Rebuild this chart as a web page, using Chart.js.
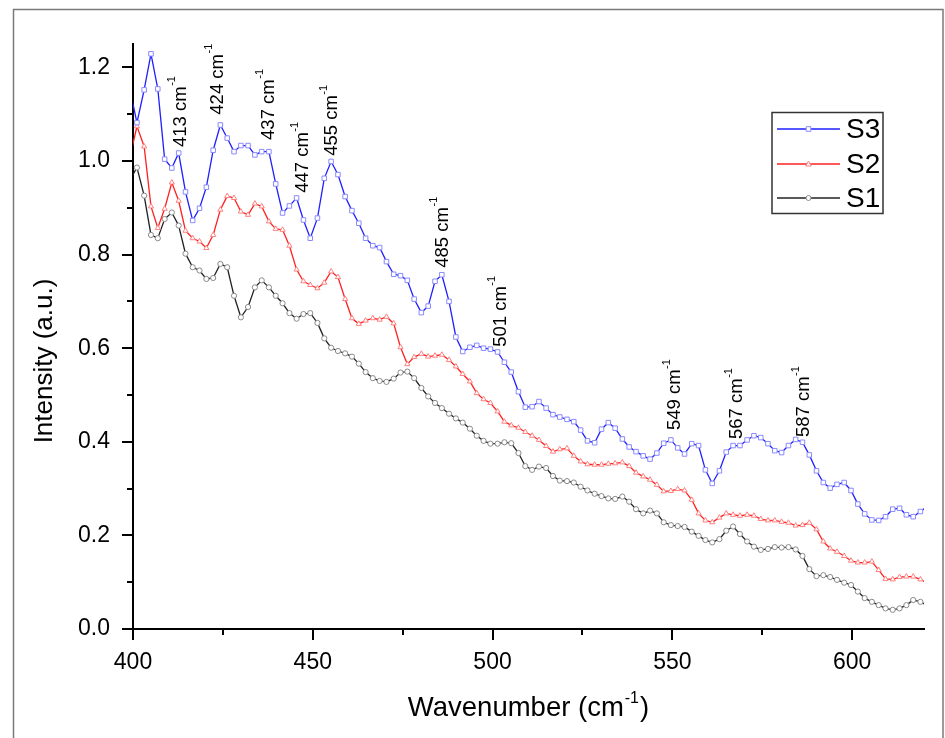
<!DOCTYPE html>
<html>
<head>
<meta charset="utf-8">
<script src="https://cdn.jsdelivr.net/npm/chart.js@4.4.0/dist/chart.umd.min.js"></script>
<style>
  html, body { margin: 0; padding: 0; background: #fff; }
  #wrap { width: 945px; height: 738px; position: relative; }
</style>
</head>
<body>
<div id="wrap"><canvas id="ramanChart"></canvas></div>
<script>
// Raman spectra data
const wavenumbers = [
  399.2, 401.1, 403.1, 405.0, 406.9, 408.8, 410.8, 412.7, 414.6, 416.6,
  418.5, 420.4, 422.3, 424.3, 426.2, 428.1, 430.0, 432.0, 433.9, 435.8,
  437.8, 439.7, 441.6, 443.5, 445.5, 447.4, 449.3, 451.3, 453.2, 455.1,
  457.0, 459.0, 460.9, 462.8, 464.7, 466.7, 468.6, 470.5, 472.5, 474.4,
  476.3, 478.2, 480.2, 482.1, 484.0, 485.9, 487.9, 489.8, 491.7, 493.7,
  495.6, 497.5, 499.4, 501.4, 503.3, 505.2, 507.2, 509.1, 511.0, 512.9,
  514.9, 516.8, 518.7, 520.7, 522.6, 524.5, 526.4, 528.4, 530.3, 532.2,
  534.1, 536.1, 538.0, 539.9, 541.9, 543.8, 545.7, 547.6, 549.6, 551.5,
  553.4, 555.4, 557.3, 559.2, 561.1, 563.1, 565.0, 566.9, 568.8, 570.8,
  572.7, 574.6, 576.6, 578.5, 580.4, 582.3, 584.3, 586.2, 588.1, 590.1,
  592.0, 593.9, 595.8, 597.8, 599.7, 601.6, 603.5, 605.5, 607.4, 609.3,
  611.3, 613.2, 615.1, 617.0, 619.0, 620.9
];

const s3Values = [
  1.150, 1.082, 1.152, 1.229, 1.154, 1.004, 0.985, 1.017, 0.934, 0.873,
  0.899, 0.944, 1.023, 1.077, 1.049, 1.020, 1.033, 1.033, 1.013, 1.020,
  1.020, 0.951, 0.889, 0.904, 0.921, 0.874, 0.835, 0.878, 0.963, 0.999,
  0.971, 0.924, 0.894, 0.867, 0.835, 0.819, 0.815, 0.785, 0.758, 0.755,
  0.745, 0.705, 0.676, 0.690, 0.743, 0.757, 0.700, 0.624, 0.593, 0.602,
  0.606, 0.600, 0.598, 0.592, 0.570, 0.549, 0.507, 0.474, 0.475, 0.486,
  0.472, 0.458, 0.453, 0.448, 0.443, 0.425, 0.402, 0.398, 0.427, 0.441,
  0.429, 0.406, 0.389, 0.379, 0.370, 0.363, 0.376, 0.397, 0.404, 0.387,
  0.374, 0.396, 0.392, 0.340, 0.311, 0.338, 0.378, 0.392, 0.392, 0.404,
  0.413, 0.409, 0.396, 0.381, 0.377, 0.392, 0.405, 0.399, 0.372, 0.338,
  0.313, 0.301, 0.309, 0.313, 0.296, 0.267, 0.246, 0.233, 0.232, 0.240,
  0.256, 0.258, 0.244, 0.240, 0.251, 0.262
];

const s2Values = [
  1.010, 1.074, 1.031, 0.903, 0.857, 0.898, 0.954, 0.915, 0.851, 0.835,
  0.828, 0.814, 0.842, 0.896, 0.925, 0.921, 0.892, 0.885, 0.909, 0.903,
  0.871, 0.855, 0.853, 0.819, 0.768, 0.743, 0.735, 0.728, 0.740, 0.764,
  0.752, 0.705, 0.664, 0.652, 0.659, 0.664, 0.661, 0.667, 0.653, 0.602,
  0.566, 0.581, 0.588, 0.582, 0.584, 0.586, 0.575, 0.561, 0.545, 0.529,
  0.504, 0.491, 0.483, 0.465, 0.443, 0.435, 0.430, 0.421, 0.413, 0.404,
  0.391, 0.379, 0.384, 0.386, 0.370, 0.358, 0.352, 0.351, 0.351, 0.353,
  0.354, 0.356, 0.348, 0.334, 0.326, 0.319, 0.308, 0.294, 0.295, 0.299,
  0.296, 0.276, 0.247, 0.232, 0.228, 0.238, 0.247, 0.244, 0.242, 0.244,
  0.242, 0.235, 0.232, 0.232, 0.229, 0.227, 0.221, 0.222, 0.227, 0.213,
  0.187, 0.172, 0.165, 0.156, 0.146, 0.142, 0.142, 0.144, 0.126, 0.107,
  0.106, 0.111, 0.112, 0.112, 0.106, 0.098
];

const s1Values = [
  0.960, 0.986, 0.926, 0.842, 0.835, 0.876, 0.890, 0.862, 0.802, 0.773,
  0.766, 0.748, 0.750, 0.780, 0.773, 0.712, 0.666, 0.688, 0.730, 0.745,
  0.730, 0.712, 0.696, 0.675, 0.663, 0.673, 0.675, 0.654, 0.621, 0.601,
  0.594, 0.589, 0.582, 0.567, 0.549, 0.536, 0.530, 0.528, 0.535, 0.548,
  0.550, 0.536, 0.515, 0.497, 0.483, 0.472, 0.460, 0.450, 0.441, 0.428,
  0.413, 0.402, 0.396, 0.396, 0.399, 0.397, 0.376, 0.348, 0.340, 0.347,
  0.344, 0.327, 0.317, 0.316, 0.313, 0.304, 0.296, 0.289, 0.284, 0.279,
  0.278, 0.283, 0.272, 0.256, 0.247, 0.253, 0.247, 0.228, 0.222, 0.220,
  0.218, 0.208, 0.199, 0.190, 0.185, 0.192, 0.210, 0.219, 0.203, 0.187,
  0.176, 0.169, 0.171, 0.175, 0.174, 0.175, 0.170, 0.156, 0.128, 0.113,
  0.115, 0.111, 0.105, 0.099, 0.094, 0.080, 0.066, 0.058, 0.051, 0.044,
  0.041, 0.044, 0.051, 0.062, 0.058, 0.050
];

const seriesNames = ['S3', 'S2', 'S1'];

// peak annotations: text, x position, y value where the text starts
const peakLabels = ['413', '424', '437', '447', '455', '485', '501', '549', '567', '587'];
const peakLabelX = [413.2, 423.5, 437.7, 447.3, 455.4, 486.1, 502.3, 550.8, 568.1, 586.7];
const peakLabelY = [1.030, 1.099, 1.045, 0.932, 1.011, 0.772, 0.603, 0.425, 0.406, 0.410];

const xMajorTicks = [400, 450, 500, 550, 600];
const xMinorTicks = [425, 475, 525, 575];
const yMajorTicks = [0, 0.2, 0.4, 0.6, 0.8, 1.0, 1.2];
const yMinorTicks = [0.1, 0.3, 0.5, 0.7, 0.9, 1.1];

const FONT = '"Liberation Sans", Arial, Helvetica, sans-serif';

function toPoints(values) {
    return wavenumbers.map((x, i) => ({ x: x, y: values[i] }));
}

function drawMarker(ctx, style, x, y) {
    ctx.beginPath();
    if (style === 'rect') {
        ctx.rect(x - 2.3, y - 2.3, 4.6, 4.6);
    } else if (style === 'triangle') {
        ctx.moveTo(x, y - 3);
        ctx.lineTo(x + 2.8, y + 2);
        ctx.lineTo(x - 2.8, y + 2);
        ctx.closePath();
    } else {
        ctx.arc(x, y, 2.5, 0, Math.PI * 2);
    }
    ctx.fill();
    ctx.stroke();
}

const decorPlugin = {
    id: 'decor',
    beforeDraw(chart) {
        const ctx = chart.ctx;
        ctx.save();
        ctx.fillStyle = '#ffffff';
        ctx.fillRect(0, 0, chart.width, chart.height);
        // outer figure frame
        ctx.strokeStyle = '#7a7a7a';
        ctx.lineWidth = 1.5;
        ctx.strokeRect(13.5, 9.5, 929.5, 740);
        ctx.restore();
    },
    afterDraw(chart) {
        const ctx = chart.ctx;
        const xs = chart.scales.x;
        const ys = chart.scales.y;
        const area = chart.chartArea;
        ctx.save();

        // tick marks (outside)
        ctx.strokeStyle = '#000';
        ctx.lineWidth = 2;
        const tick = (x1, y1, x2, y2) => {
            ctx.beginPath();
            ctx.moveTo(x1, y1);
            ctx.lineTo(x2, y2);
            ctx.stroke();
        };
        xMajorTicks.forEach(v => {
            const px = Math.round(xs.getPixelForValue(v));
            tick(px, area.bottom, px, area.bottom + 11);
        });
        xMinorTicks.forEach(v => {
            const px = Math.round(xs.getPixelForValue(v));
            tick(px, area.bottom, px, area.bottom + 6);
        });
        yMajorTicks.forEach(v => {
            const py = Math.round(ys.getPixelForValue(v));
            tick(area.left, py, area.left - 11, py);
        });
        yMinorTicks.forEach(v => {
            const py = Math.round(ys.getPixelForValue(v));
            tick(area.left, py, area.left - 6, py);
        });

        // peak labels, rotated
        ctx.fillStyle = '#000';
        peakLabels.forEach((lab, i) => {
            const px = xs.getPixelForValue(peakLabelX[i]);
            const py = ys.getPixelForValue(peakLabelY[i]);
            ctx.save();
            ctx.translate(px, py);
            ctx.rotate(-Math.PI / 2);
            ctx.textAlign = 'left';
            ctx.textBaseline = 'middle';
            ctx.font = '18.5px ' + FONT;
            const main = lab + ' cm';
            ctx.fillText(main, 0, 0);
            const w = ctx.measureText(main).width;
            ctx.font = '11px ' + FONT;
            ctx.fillText('-1', w + 0.5, -8.5);
            ctx.restore();
        });

        // x axis title with superscript
        ctx.textBaseline = 'alphabetic';
        ctx.textAlign = 'left';
        ctx.font = '27.5px ' + FONT;
        const t1 = 'Wavenumber (cm';
        const t2 = ')';
        const w1 = ctx.measureText(t1).width;
        const w2 = ctx.measureText(t2).width;
        ctx.font = '16px ' + FONT;
        const ws = ctx.measureText('-1').width;
        const cx = (area.left + area.right) / 2;
        const sx = cx - (w1 + ws + w2 + 2) / 2;
        ctx.font = '27.5px ' + FONT;
        ctx.fillText(t1, sx, 716);
        ctx.font = '16px ' + FONT;
        ctx.fillText('-1', sx + w1 + 1, 703);
        ctx.font = '27.5px ' + FONT;
        ctx.fillText(t2, sx + w1 + ws + 2, 716);

        // y axis title
        ctx.save();
        ctx.translate(45, 361);
        ctx.rotate(-Math.PI / 2);
        ctx.textAlign = 'center';
        ctx.textBaseline = 'middle';
        ctx.font = '26px ' + FONT;
        ctx.fillText('Intensity (a.u.)', 0, 0);
        ctx.restore();

        // legend box
        ctx.strokeStyle = '#333';
        ctx.lineWidth = 1.5;
        ctx.strokeRect(772, 112.5, 111, 101);
        const rows = [129, 164, 198];
        chart.data.datasets.forEach((ds, i) => {
            const y = rows[i];
            ctx.strokeStyle = ds.borderColor;
            ctx.lineWidth = 1.3;
            ctx.beginPath();
            ctx.moveTo(777, y);
            ctx.lineTo(840, y);
            ctx.stroke();
            ctx.fillStyle = '#fff';
            ctx.strokeStyle = ds.pointBorderColor;
            ctx.lineWidth = 1;
            drawMarker(ctx, ds.pointStyle, 808.5, y);
            ctx.fillStyle = '#000';
            ctx.font = '28px ' + FONT;
            ctx.textAlign = 'left';
            ctx.textBaseline = 'middle';
            ctx.fillText(ds.label, 846, y + 1);
        });

        ctx.restore();
    }
};

const ctx = document.getElementById('ramanChart').getContext('2d');
new Chart(ctx, {
    type: 'line',
    data: {
        datasets: [
            {
                label: seriesNames[0],
                data: toPoints(s3Values),
                borderColor: '#1f1fff',
                borderWidth: 1.3,
                pointStyle: 'rect',
                pointRadius: 3.2,
                pointBackgroundColor: '#ffffff',
                pointBorderColor: '#8a8aff',
                pointBorderWidth: 1,
                clip: 0
            },
            {
                label: seriesNames[1],
                data: toPoints(s2Values),
                borderColor: '#ff2020',
                borderWidth: 1.3,
                pointStyle: 'triangle',
                pointRadius: 3,
                pointBackgroundColor: '#ffffff',
                pointBorderColor: '#ff8080',
                pointBorderWidth: 1,
                clip: 0
            },
            {
                label: seriesNames[2],
                data: toPoints(s1Values),
                borderColor: '#222222',
                borderWidth: 1.3,
                pointStyle: 'circle',
                pointRadius: 2.6,
                pointBackgroundColor: '#ffffff',
                pointBorderColor: '#8a8a8a',
                pointBorderWidth: 1,
                clip: 0
            }
        ]
    },
    options: {
        responsive: true,
        maintainAspectRatio: false,
        animation: false,
        layout: { padding: { top: 44, right: 21, left: 0, bottom: 0 } },
        plugins: {
            legend: { display: false },
            tooltip: { enabled: false }
        },
        elements: { line: { tension: 0 } },
        scales: {
            x: {
                type: 'linear',
                min: 400,
                max: 620,
                grid: { display: false },
                border: { display: true, color: '#000', width: 2 },
                ticks: {
                    stepSize: 50,
                    includeBounds: false,
                    color: '#000',
                    padding: 12,
                    font: { family: FONT, size: 23 },
                    maxRotation: 0
                },
                afterFit: scale => { scale.height = 109; }
            },
            y: {
                min: 0,
                max: 1.25,
                grid: { display: false },
                border: { display: true, color: '#000', width: 2 },
                ticks: {
                    stepSize: 0.2,
                    includeBounds: false,
                    color: '#000',
                    padding: 15,
                    font: { family: FONT, size: 23 },
                    callback: v => Number(v).toFixed(1)
                },
                afterFit: scale => { scale.width = 133; }
            }
        }
    },
    plugins: [decorPlugin]
});
</script>
</body>
</html>
